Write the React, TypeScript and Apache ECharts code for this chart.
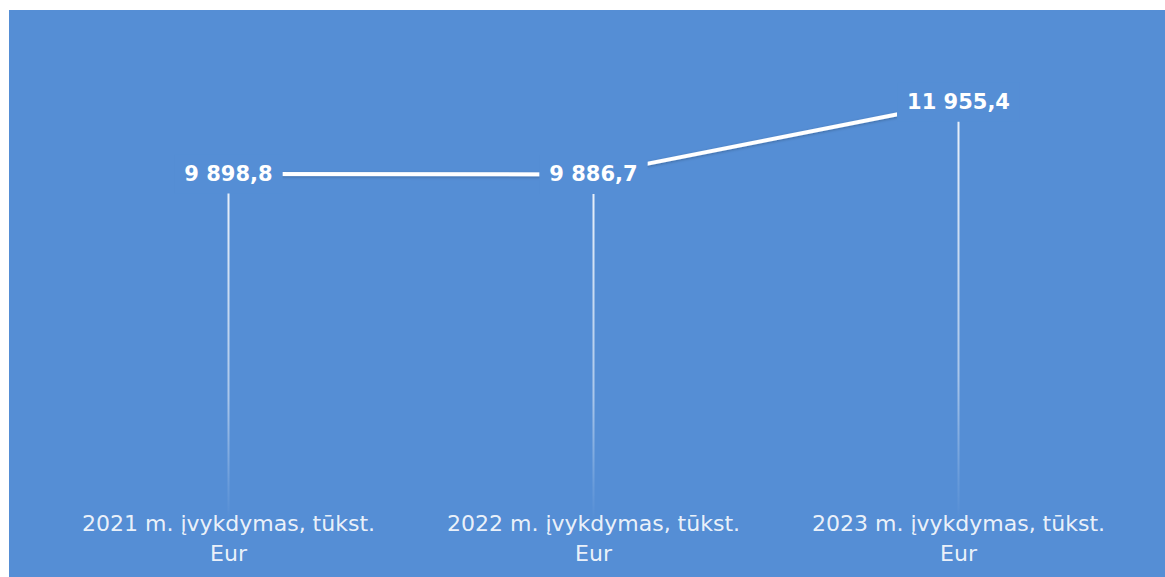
import React, { useEffect, useRef } from "react";
import * as echarts from "echarts";

const categories = [
  "2021 m. įvykdymas, tūkst.\nEur",
  "2022 m. įvykdymas, tūkst.\nEur",
  "2023 m. įvykdymas, tūkst.\nEur",
];
const values = [9898.8, 9886.7, 11955.4];
const yMin = 0;
const yMax = 14000;

const BG = "#558ed5";

function fmt(v: number): string {
  const [i, d] = v.toFixed(1).split(".");
  return i.replace(/\B(?=(\d{3})+(?!\d))/g, " ") + "," + d;
}

export default function App() {
  const ref = useRef<HTMLDivElement>(null);
  useEffect(() => {
    if (!ref.current) return;
    const chart = echarts.init(ref.current, null, { renderer: "svg" });
    chart.setOption({
      animation: false,
      backgroundColor: BG,
      grid: { left: 37, right: 24, top: 21, bottom: 58, containLabel: false },
      xAxis: {
        type: "category",
        data: categories,
        boundaryGap: true,
        axisLine: { show: false },
        axisTick: { show: false },
        splitLine: { show: false },
        axisLabel: {
          color: "rgba(255,255,255,0.9)",
          fontFamily: "DejaVu Sans",
          fontSize: 22,
          lineHeight: 30,
          margin: -11,
          interval: 0,
        },
      },
      yAxis: {
        type: "value",
        min: yMin,
        max: yMax,
        show: false,
        splitLine: { show: false },
      },
      series: [
        {
          type: "bar",
          data: values,
          barWidth: 2,
          z: 1,
          itemStyle: {
            color: {
              type: "linear",
              x: 0,
              y: 0,
              x2: 0,
              y2: 1,
              colorStops: [
                { offset: 0, color: "rgba(255,255,255,0.9)" },
                { offset: 0.65, color: "rgba(255,255,255,0.5)" },
                { offset: 0.9, color: "rgba(255,255,255,0.12)" },
                { offset: 1, color: "rgba(255,255,255,0)" },
              ],
            },
          },
        },
        {
          type: "line",
          data: values,
          z: 3,
          symbol: "circle",
          symbolSize: 1,
          itemStyle: { color: "rgba(0,0,0,0)" },
          lineStyle: {
            color: "#ffffff",
            width: 4,
            shadowColor: "rgba(0,0,0,0.25)",
            shadowBlur: 3,
            shadowOffsetY: 1,
          },
          label: {
            show: true,
            position: "inside",
            formatter: (p: any) => fmt(p.value),
            color: "#ffffff",
            fontFamily: "DejaVu Sans",
            fontWeight: "bold",
            fontSize: 21,
            backgroundColor: BG,
            padding: [9, 10, 9, 10],
          },
        },
      ],
    });
    return () => chart.dispose();
  }, []);
  return (
    <div
      ref={ref}
      style={{ position: "absolute", left: 9, top: 10, width: 1156, height: 567 }}
    />
  );
}
